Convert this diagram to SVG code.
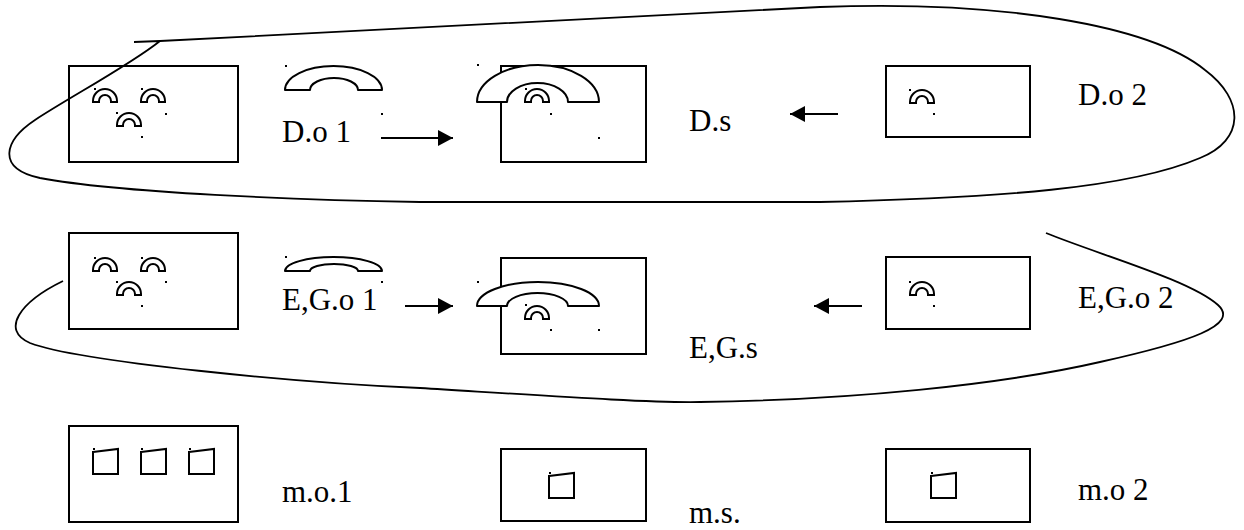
<svg xmlns="http://www.w3.org/2000/svg" xmlns:xlink="http://www.w3.org/1999/xlink" width="1244" height="530" viewBox="0 0 1244 530">
<style>
.box{fill:none;stroke:#000;stroke-width:2}
.hs{fill:#fff;stroke:#000;stroke-width:2;stroke-linejoin:round}
.ic{fill:#fff;stroke:#000;stroke-width:2}
.loop{fill:none;stroke:#000;stroke-width:1.8}
.arr{stroke:#000;stroke-width:2;fill:none}
.lbl{font-family:"Liberation Serif","Times New Roman",serif;font-size:31px;fill:#000}
.dot{fill:#000}
</style>
<defs>
<marker id="ah" viewBox="0 0 15 16" refX="15" refY="8" markerWidth="15" markerHeight="16" markerUnits="userSpaceOnUse" orient="auto">
<path d="M0,0 L15,8 L0,16 Z" fill="#000"/>
</marker>
<path id="arc" d="M0,13 L0,12 A12,12 0 0 1 24,12 L24,13 L18,13 L18,12 A6,6 0 0 0 6,12 L6,13 Z" class="ic"/>
<path id="cup" d="M0,3 L25,0 L25,25 L0,25 Z" class="ic"/>
</defs>

<g id="loops">
<path class="loop" d="M134,42 L160,41 Q490,24 820,7 C1000,0 1150,25 1205,70 C1245,100 1245,140 1200,158 C1130,188 1000,198 820,202 L420,202 C300,200 120,193 40,178 C-5,168 5,140 35,120 C70,97 130,65 160,41"/>
<path class="loop" d="M63,281 C20,302 0,330 30,343 C80,362 300,383 420,388 C550,396 650,403 700,402 C850,400 1000,385 1100,362 C1190,342 1240,325 1218,305 C1190,280 1100,255 1046,233"/>
</g>

<g id="connectors">
<line class="arr" x1="381" y1="138" x2="453" y2="138" marker-end="url(#ah)"/>
<line class="arr" x1="838" y1="114" x2="790" y2="114" marker-end="url(#ah)"/>
<line class="arr" x1="405" y1="306" x2="453" y2="306" marker-end="url(#ah)"/>
<line class="arr" x1="862" y1="306" x2="814" y2="306" marker-end="url(#ah)"/>
</g>

<g id="d-o1">
<rect class="box" x="69" y="66" width="169" height="96"/>
<use href="#arc" x="93" y="89"/>
<use href="#arc" x="141" y="89"/>
<use href="#arc" x="117" y="113"/>
<rect class="dot" x="94" y="88" width="2" height="2"/>
<rect class="dot" x="141" y="88" width="2" height="2"/>
<rect class="dot" x="165" y="113" width="2" height="2"/>
<rect class="dot" x="116" y="112" width="2" height="2"/>
<rect class="dot" x="141" y="136" width="2" height="2"/>
<path class="hs" d="M285,90 A48.5,24 0 0 1 382,90 L358,90 A24,12 0 0 0 310,90 Z"/>
<rect class="dot" x="285" y="65" width="2" height="2"/>
<rect class="dot" x="381" y="113" width="2" height="2"/>
<text class="lbl" x="282" y="142">D.o 1</text>
</g>

<g id="d-s">
<rect class="box" x="501" y="66" width="145" height="96"/>
<path class="hs" d="M477,102 A61,37 0 0 1 599,102 L568,102 A30.5,19 0 0 0 507,102 Z"/>
<use href="#arc" x="525" y="89"/>
<rect class="dot" x="477" y="64" width="2" height="2"/>
<rect class="dot" x="525" y="88" width="2" height="2"/>
<rect class="dot" x="550" y="113" width="2" height="2"/>
<rect class="dot" x="598" y="137" width="2" height="2"/>
<text class="lbl" x="689" y="131">D.s</text>
</g>

<g id="d-o2">
<rect class="box" x="886" y="66" width="144" height="71"/>
<use href="#arc" x="910" y="90"/>
<rect class="dot" x="909" y="89" width="2" height="2"/>
<rect class="dot" x="933" y="113" width="2" height="2"/>
<text class="lbl" x="1078" y="105">D.o 2</text>
</g>

<g id="eg-o1">
<rect class="box" x="69" y="233" width="169" height="96"/>
<use href="#arc" x="93" y="258"/>
<use href="#arc" x="141" y="258"/>
<use href="#arc" x="117" y="282"/>
<rect class="dot" x="94" y="257" width="2" height="2"/>
<rect class="dot" x="141" y="257" width="2" height="2"/>
<rect class="dot" x="165" y="281" width="2" height="2"/>
<rect class="dot" x="116" y="281" width="2" height="2"/>
<rect class="dot" x="141" y="305" width="2" height="2"/>
<path class="hs" d="M285,271 A48.5,14 0 0 1 382,271 L358,271 A24,7 0 0 0 310,271 Z"/>
<rect class="dot" x="285" y="256" width="2" height="2"/>
<rect class="dot" x="381" y="281" width="2" height="2"/>
<text class="lbl" x="282" y="310">E,G.o 1</text>
</g>

<g id="eg-s">
<rect class="box" x="501" y="258" width="145" height="96"/>
<path class="hs" d="M477,306 A61,24 0 0 1 599,306 L568,306 A30.5,13 0 0 0 507,306 Z"/>
<use href="#arc" x="525" y="306"/>
<rect class="dot" x="477" y="281" width="2" height="2"/>
<rect class="dot" x="525" y="304" width="2" height="2"/>
<rect class="dot" x="550" y="329" width="2" height="2"/>
<rect class="dot" x="598" y="329" width="2" height="2"/>
<text class="lbl" x="689" y="358">E,G.s</text>
</g>

<g id="eg-o2">
<rect class="box" x="886" y="257" width="144" height="72"/>
<use href="#arc" x="910" y="282"/>
<rect class="dot" x="909" y="281" width="2" height="2"/>
<rect class="dot" x="933" y="305" width="2" height="2"/>
<text class="lbl" x="1078" y="308">E,G.o 2</text>
</g>

<g id="m-o1">
<rect class="box" x="69" y="426" width="169" height="96"/>
<use href="#cup" x="93" y="449"/>
<use href="#cup" x="141" y="449"/>
<use href="#cup" x="189" y="449"/>
<rect class="dot" x="93" y="448" width="2" height="2"/>
<rect class="dot" x="141" y="448" width="2" height="2"/>
<rect class="dot" x="189" y="448" width="2" height="2"/>
<text class="lbl" x="282" y="502">m.o.1</text>
</g>

<g id="m-s">
<rect class="box" x="501" y="449" width="145" height="72"/>
<use href="#cup" x="549" y="473"/>
<rect class="dot" x="549" y="472" width="2" height="2"/>
<text class="lbl" x="689" y="523">m.s.</text>
</g>

<g id="m-o2">
<rect class="box" x="886" y="449" width="144" height="73"/>
<use href="#cup" x="931" y="473"/>
<rect class="dot" x="931" y="472" width="2" height="2"/>
<text class="lbl" x="1078" y="500">m.o 2</text>
</g>
</svg>
